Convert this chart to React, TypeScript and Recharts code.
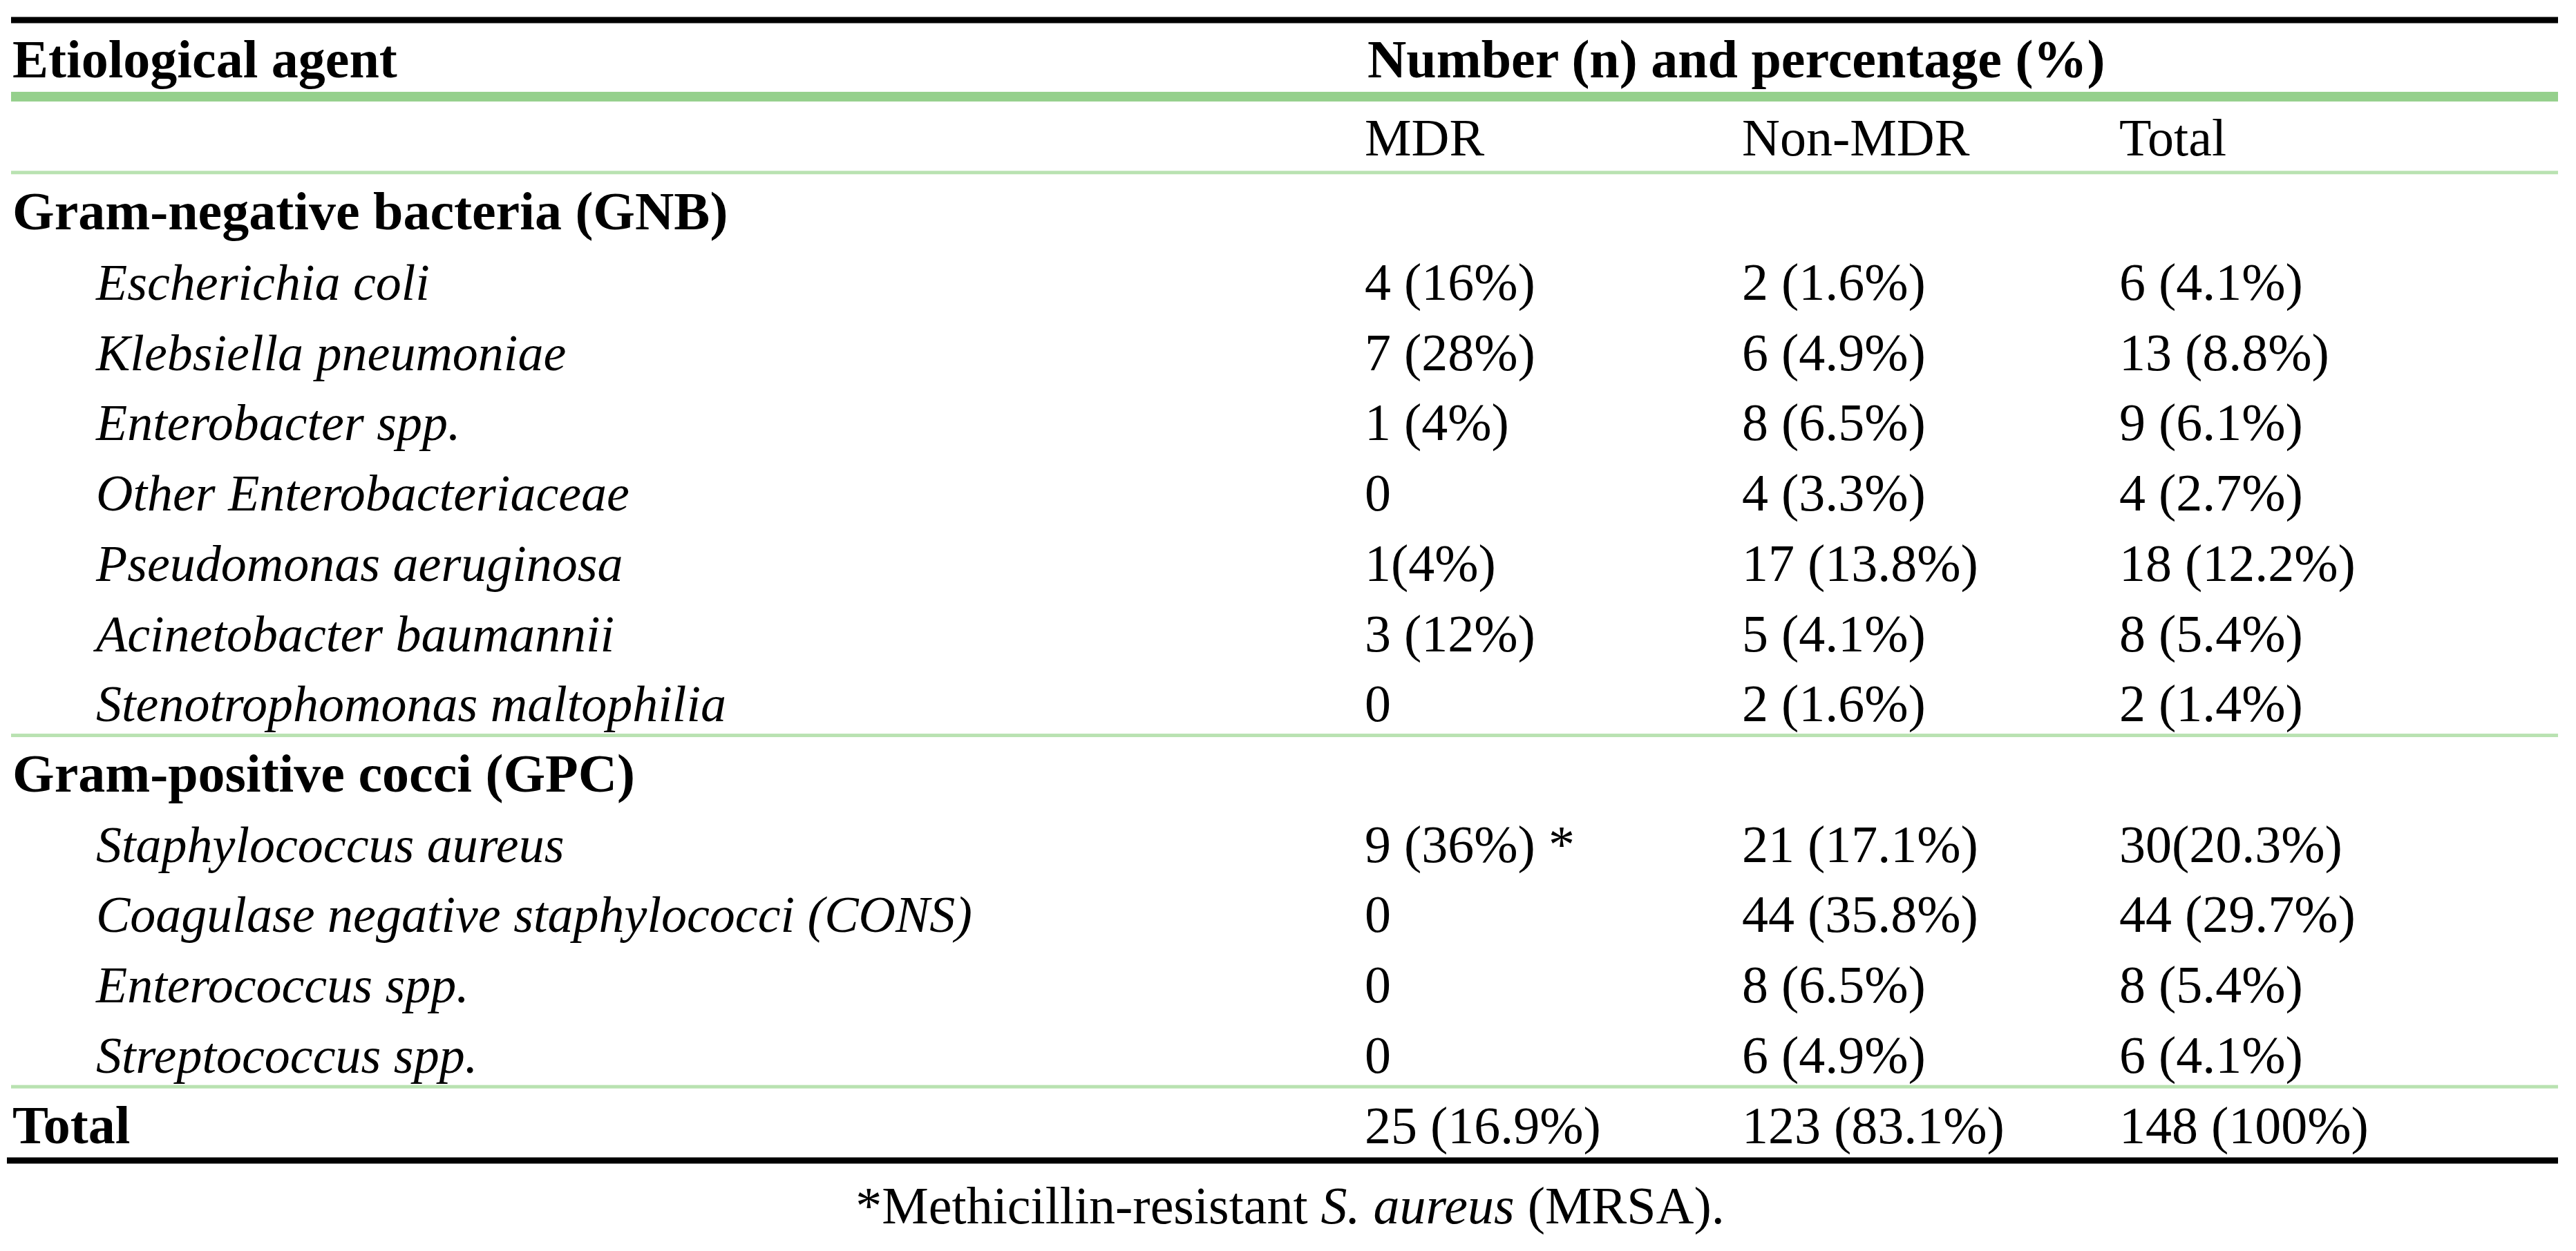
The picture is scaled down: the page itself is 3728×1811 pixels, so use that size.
import React from "react";
import { ScatterChart, Scatter, XAxis, YAxis, ReferenceLine, Customized } from "recharts";

// table body rows, top to bottom
const agents = [
  "Gram-negative bacteria (GNB)",
  "Escherichia coli",
  "Klebsiella pneumoniae",
  "Enterobacter spp.",
  "Other Enterobacteriaceae",
  "Pseudomonas aeruginosa",
  "Acinetobacter baumannii",
  "Stenotrophomonas maltophilia",
  "Gram-positive cocci (GPC)",
  "Staphylococcus aureus",
  "Coagulase negative staphylococci (CONS)",
  "Enterococcus spp.",
  "Streptococcus spp.",
  "Total",
];
const rowKinds = ["group", "item", "item", "item", "item", "item", "item", "item", "group", "item", "item", "item", "item", "total"];

const mdrValues = ["", "4 (16%)", "7 (28%)", "1 (4%)", "0", "1(4%)", "3 (12%)", "0", "", "9 (36%) *", "0", "0", "0", "25 (16.9%)"];
const nonMdrValues = ["", "2 (1.6%)", "6 (4.9%)", "8 (6.5%)", "4 (3.3%)", "17 (13.8%)", "5 (4.1%)", "2 (1.6%)", "", "21 (17.1%)", "44 (35.8%)", "8 (6.5%)", "6 (4.9%)", "123 (83.1%)"];
const totalValues = ["", "6 (4.1%)", "13 (8.8%)", "9 (6.1%)", "4 (2.7%)", "18 (12.2%)", "8 (5.4%)", "2 (1.4%)", "", "30(20.3%)", "44 (29.7%)", "8 (5.4%)", "6 (4.1%)", "148 (100%)"];

const columnHeaders = ["MDR", "Non-MDR", "Total"];
const spanHeader = "Number (n) and percentage (%)";
const firstHeader = "Etiological agent";

const W = 3728;
const H = 1811;
const FONT = "'Liberation Serif', 'Times New Roman', serif";
const TABLE_LEFT = 16;
const TABLE_RIGHT = 3702;
const COL_X = [1975, 2521, 3067];

const toCells = (values: string[], col: number) =>
  values.map((text, row) => ({ col, row, text })).filter((c) => c.text !== "");

const cellShape = (props: any) => (
  <text x={props.cx} y={props.cy} fontFamily={FONT} fontSize={76} fill="#000">
    {props.payload.text}
  </text>
);

const rule = (color: string, thickness: number, left = TABLE_LEFT) => (props: any) => (
  <rect x={left} y={props.y1 - thickness / 2} width={TABLE_RIGHT - left} height={thickness} fill={color} />
);

const AgentTick = (props: any) => {
  const i = props.payload.value;
  const kind = rowKinds[i];
  const italic = kind === "item";
  return (
    <text
      x={italic ? 139 : 18}
      y={props.y}
      fontFamily={FONT}
      fontSize={italic ? 74 : 78}
      fontStyle={italic ? "italic" : "normal"}
      fontWeight={italic ? "normal" : "bold"}
      fill="#000"
    >
      {agents[i]}
    </text>
  );
};

const Headers = () => (
  <g fontFamily={FONT} fill="#000">
    <text x={18} y={112} fontSize={78} fontWeight="bold">{firstHeader}</text>
    <text x={1979} y={112} fontSize={78} fontWeight="bold">{spanHeader}</text>
    {columnHeaders.map((h, i) => (
      <text key={h} x={COL_X[i]} y={225} fontSize={76}>{h}</text>
    ))}
    <text x={1867} y={1771} fontSize={76} textAnchor="middle">
      *Methicillin-resistant <tspan fontStyle="italic">S. aureus</tspan> (MRSA).
    </text>
  </g>
);

export default function App() {
  return (
    <div style={{ position: "absolute", left: 0, top: 0, width: W, height: H, background: "#fff" }}>
      <ScatterChart width={W} height={H} margin={{ top: 27, right: 115, bottom: 131, left: 0 }}>
        <XAxis type="number" dataKey="col" domain={[0, 3]} allowDataOverflow hide />
        <YAxis
          type="number"
          dataKey="row"
          domain={[-3, 13.25]}
          allowDataOverflow
          reversed
          width={1975}
          ticks={agents.map((_, i) => i)}
          interval={0}
          tick={<AgentTick />}
          tickLine={false}
          axisLine={false}
        />
        <ReferenceLine y={-2.98} shape={rule("#000000", 9)} />
        <ReferenceLine y={-1.89} shape={rule("#95D08C", 14)} />
        <ReferenceLine y={-0.81} shape={rule("#B9E2B1", 5)} />
        <ReferenceLine y={7.2} shape={rule("#B9E2B1", 5)} />
        <ReferenceLine y={12.2} shape={rule("#B9E2B1", 5)} />
        <ReferenceLine y={13.25} shape={rule("#000000", 9, 10)} />
        <Scatter data={toCells(mdrValues, 0)} shape={cellShape} isAnimationActive={false} />
        <Scatter data={toCells(nonMdrValues, 1)} shape={cellShape} isAnimationActive={false} />
        <Scatter data={toCells(totalValues, 2)} shape={cellShape} isAnimationActive={false} />
        <Customized component={<Headers />} />
      </ScatterChart>
    </div>
  );
}
